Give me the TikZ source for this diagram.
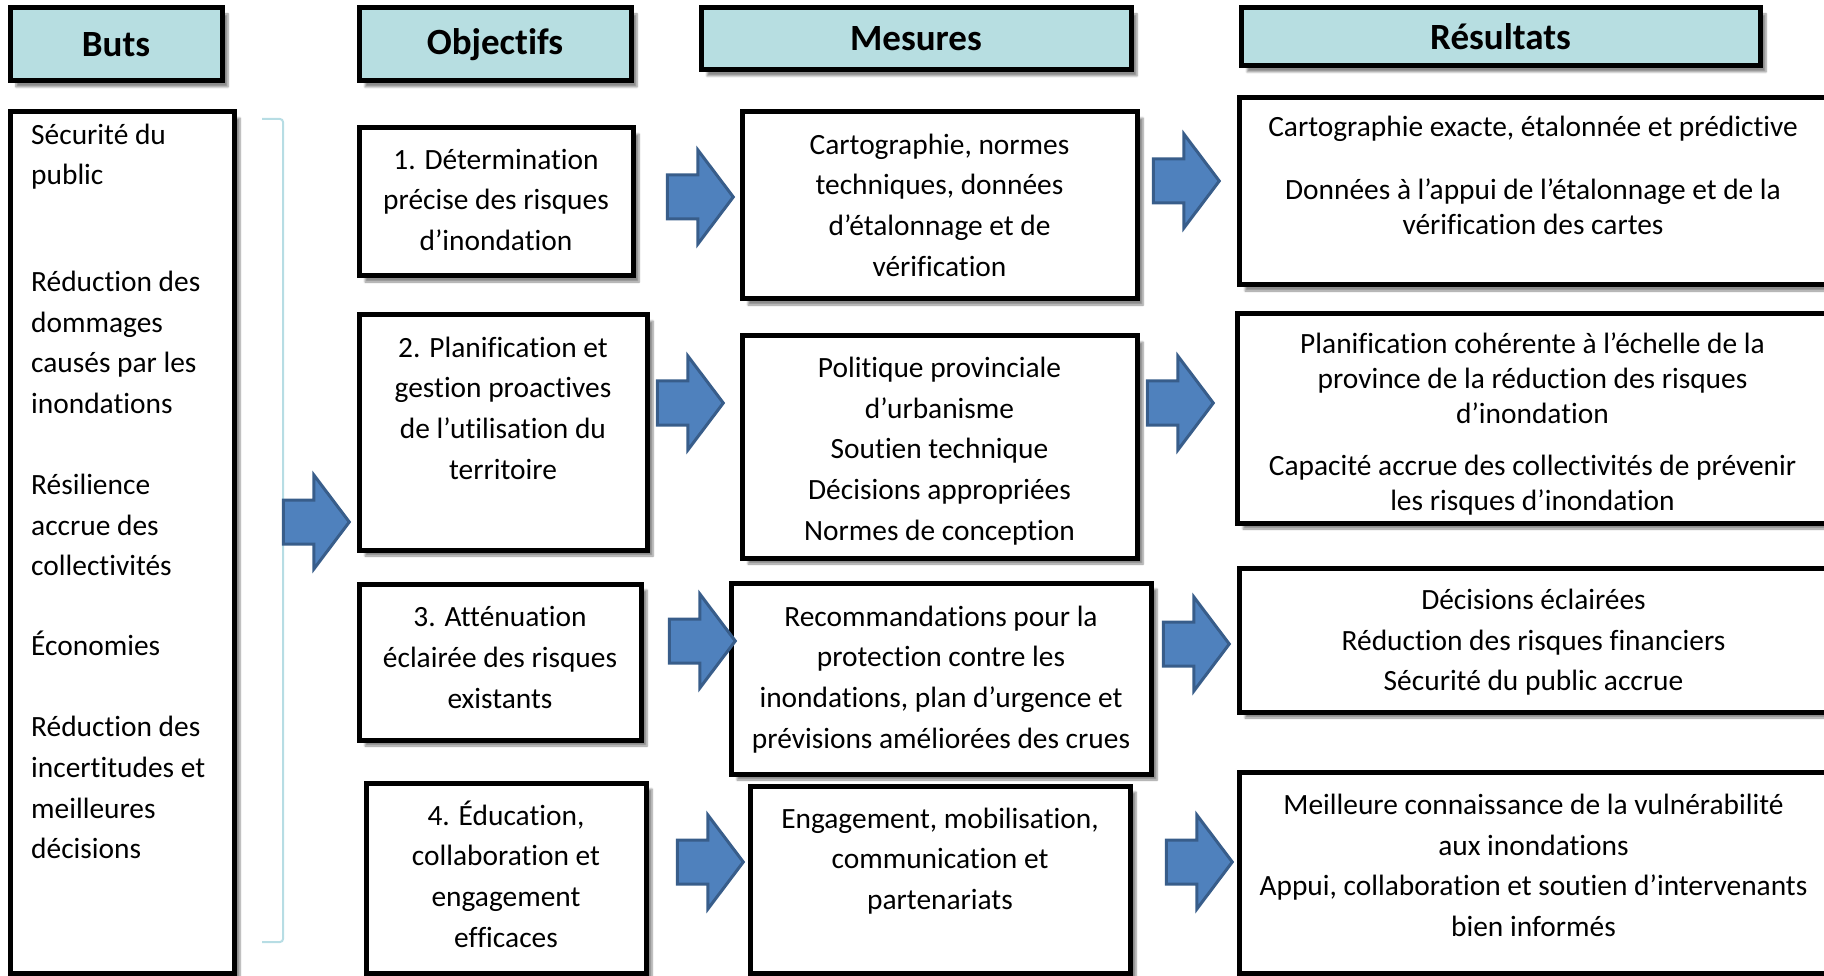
\documentclass[tikz,border=0pt]{standalone}
\usepackage{fontspec}
\setmainfont{Carlito}[Ligatures=CommonOff]
\usepackage{xcolor}
\usepackage{tikz}
\usetikzlibrary{positioning,shapes.arrows,shadows.blur}

\definecolor{hdrblue}{RGB}{183,222,225}
\definecolor{bracketblue}{RGB}{183,221,228}
\definecolor{arrowblue}{RGB}{79,129,189}
\definecolor{arrowedge}{RGB}{56,93,138}

\tikzset{
  hdr/.style={draw, line width=5pt, fill=hdrblue, inner sep=0pt,
    font=\bfseries\fontsize{37}{44}\selectfont,
    blur shadow={shadow xshift=6pt, shadow yshift=-6pt, shadow opacity=45, shadow blur steps=6}},
  box/.style={draw, line width=5pt, fill=white, inner sep=0pt,
    blur shadow={shadow xshift=6pt, shadow yshift=-6pt, shadow opacity=45, shadow blur steps=6}},
  txt/.style={inner sep=0pt, align=center, font=\fontsize{29.4}{40.7}\selectfont},
  blockarrow/.style={single arrow, draw=arrowedge, fill=arrowblue, line width=3pt,
    minimum width=91pt, minimum height=66pt, inner xsep=0pt, inner ysep=20.5pt,
    single arrow head extend=25pt, single arrow tip angle=106},
}

\begin{document}
\begin{tikzpicture}[x=1pt, y=-1pt]
        \useasboundingbox (0,0) rectangle (1824,976);
        \clip (0,0) rectangle (1824,976);

        % column headers
        \node[hdr, minimum width=212, minimum height=73] (hbuts) at (116,44.5) {Buts};
        \node[hdr, minimum width=272, minimum height=73] (hobj) at (495,44.5) {Objectifs};
        \node[hdr, minimum width=430, minimum height=62] (hmes) at (916,39) {Mesures};
        \node[hdr, minimum width=519, minimum height=58] (hres) at (1500.5,37) {Résultats};

        % goals
        \node[box, minimum width=224, minimum height=861] (buts) at (122,542.5) {};
        \node[txt, align=left, anchor=north west] (butstxt) at (31,123.5)
            {Sécurité du\\ public\\[66pt]
             Réduction des\\ dommages\\ causés par les\\ inondations\\[40pt]
             Résilience\\ accrue des\\ collectivités\\[39.5pt]
             Économies\\[40pt]
             Réduction des\\ incertitudes et\\ meilleures\\ décisions};
        \draw[bracketblue, line width=2pt, rounded corners=3pt]
            (262,119) -- (283,119) -- (283,942) -- (262,942);
        \node[blockarrow] (abuts) at (308,522) {};

        % objectives
        \node[box, minimum width=274, minimum height=148] (obj1) at (496,202) {};
        \node[txt] (obj1txt) at (496,199.7)
            {1. Détermination\\ précise des risques\\ d’inondation};
        \node[box, minimum width=288, minimum height=235] (obj2) at (503,432.5) {};
        \node[txt] (obj2txt) at (503,408)
            {2. Planification et\\ gestion proactives\\ de l’utilisation du\\ territoire};
        \node[box, minimum width=282, minimum height=156] (obj3) at (500,662) {};
        \node[txt] (obj3txt) at (500,657.4)
            {3. Atténuation\\ éclairée des risques\\ existants};
        \node[box, minimum width=280, minimum height=190] (obj4) at (506,878) {};
        \node[txt] (obj4txt) at (506,874)
            {4. Éducation,\\ collaboration et\\ engagement\\ efficaces};

        % measures
        \node[box, minimum width=395, minimum height=187] (mes1) at (939.5,205.5) {};
        \node[txt] (mes1txt) at (939.5,205)
            {Cartographie, normes\\ techniques, données\\ d’étalonnage et de\\ vérification};
        \node[box, minimum width=395, minimum height=222] (mes2) at (939.5,447) {};
        \node[txt] (mes2txt) at (939.5,451)
            {Politique provinciale\\ d’urbanisme\\ Soutien technique\\ Décisions appropriées\\ Normes de conception};
        \node[box, minimum width=420, minimum height=191] (mes3) at (941,678.5) {};
        \node[txt] (mes3txt) at (941,679.5)
            {Recommandations pour la\\ protection contre les\\ inondations, plan d’urgence et\\ prévisions améliorées des crues};
        \node[box, minimum width=380, minimum height=187] (mes4) at (940,879.5) {};
        \node[txt] (mes4txt) at (940,861)
            {Engagement, mobilisation,\\ communication et\\ partenariats};

        % results
        \node[box, minimum width=589, minimum height=187] (res1) at (1533.5,191.5) {};
        \node[txt, font=\fontsize{29.4}{35}\selectfont, anchor=north] (res1txt) at (1533,116)
            {Cartographie exacte, étalonnée et prédictive\\[28pt]
             Données à l’appui de l’étalonnage et de la\\ vérification des cartes};
        \node[box, minimum width=591, minimum height=209] (res2) at (1532.5,418.5) {};
        \node[txt, font=\fontsize{29.4}{35}\selectfont] (res2txt) at (1532.5,424.5)
            {Planification cohérente à l’échelle de la\\ province de la réduction des risques\\ d’inondation\\[17pt]
             Capacité accrue des collectivités de prévenir\\ les risques d’inondation};
        \node[box, minimum width=589, minimum height=144] (res3) at (1533.5,640) {};
        \node[txt] (res3txt) at (1533.5,642.3)
            {Décisions éclairées\\ Réduction des risques financiers\\ Sécurité du public accrue};
        \node[box, minimum width=589, minimum height=201] (res4) at (1533.5,872.5) {};
        \node[txt] (res4txt) at (1533.5,865.5)
            {Meilleure connaissance de la vulnérabilité\\ aux inondations\\ Appui, collaboration et soutien d’intervenants\\ bien informés};

        % arrows between the columns
        \node[blockarrow] (a1) at (692,197) {};
        \node[blockarrow] (a2) at (682,403) {};
        \node[blockarrow] (a3) at (694,641) {};
        \node[blockarrow] (a4) at (702,862) {};
        \node[blockarrow] (b1) at (1178,181) {};
        \node[blockarrow] (b2) at (1172,403) {};
        \node[blockarrow] (b3) at (1188,644) {};
        \node[blockarrow] (b4) at (1191,862) {};
    \end{tikzpicture}
\end{document}
